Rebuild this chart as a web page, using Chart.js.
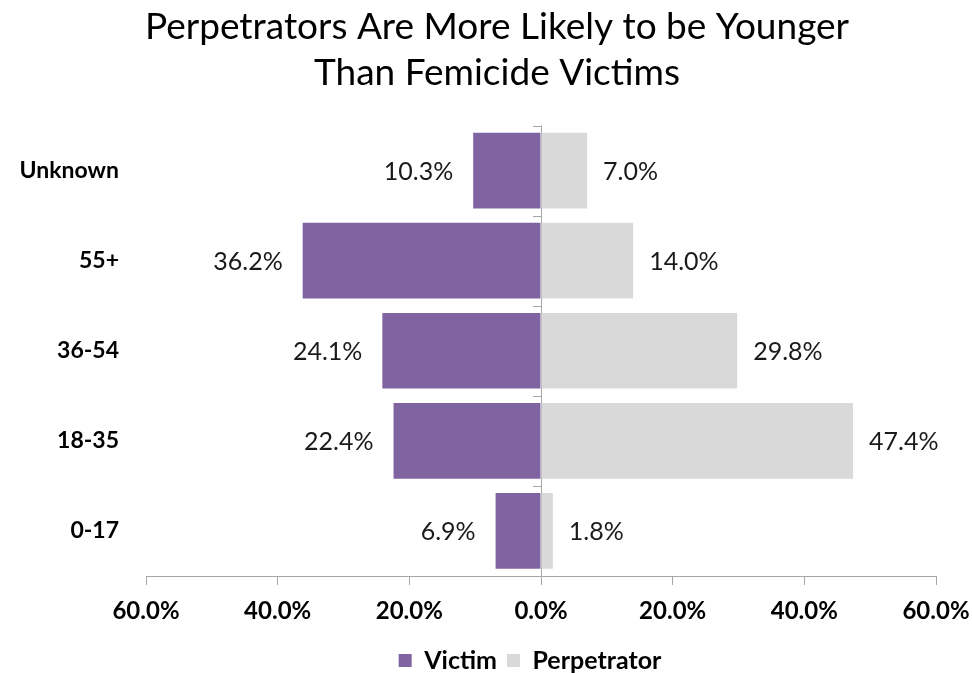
<!DOCTYPE html>
<html>
<head>
<meta charset="utf-8">
<script src="https://cdn.jsdelivr.net/npm/chart.js@4"></script>
<style>
  body { margin: 0; background: #fff; }
  canvas { display: block; }
</style>
</head>
<body>
<canvas id="ageChart" width="972" height="673"></canvas>
<script>
const ageGroups = ["Unknown", "55+", "36-54", "18-35", "0-17"];
const victimPct = [10.3, 36.2, 24.1, 22.4, 6.9];
const perpetratorPct = [7.0, 14.0, 29.8, 47.4, 1.8];
const axisTicks = [-60, -40, -20, 0, 20, 40, 60];

const axisGray = "#a6a6a6";
const fontFamily = "Lato, 'Open Sans', sans-serif";

Chart.defaults.color = "#000";
Chart.defaults.font.family = fontFamily;

// victims go to the left of zero, perpetrators to the right
const data = {
  labels: ageGroups,
  datasets: [
    {
      label: "Victim",
      data: victimPct.map((v) => -v),
      backgroundColor: "#8064a2",
      categoryPercentage: 0.84,
      barPercentage: 1,
    },
    {
      label: "Perpetrator",
      data: perpetratorPct,
      backgroundColor: "#d9d9d9",
      categoryPercentage: 0.84,
      barPercentage: 1,
    },
  ],
};

// percentage text beside the end of each bar
const barLabels = {
  id: "barLabels",
  afterDatasetsDraw(chart) {
    const ctx = chart.ctx;
    ctx.save();
    ctx.font = "25px " + fontFamily;
    ctx.fillStyle = "#1a1a1a";
    ctx.textBaseline = "middle";
    chart.data.datasets.forEach((ds, di) => {
      const meta = chart.getDatasetMeta(di);
      meta.data.forEach((bar, i) => {
        const v = Math.abs(ds.data[i]).toFixed(1) + "%";
        if (ds.data[i] < 0) {
          ctx.textAlign = "right";
          ctx.fillText(v, bar.x - 20, bar.y + 1);
        } else {
          ctx.textAlign = "left";
          ctx.fillText(v, bar.x + 16, bar.y + 1);
        }
      });
    });
    ctx.restore();
  },
};

// small category ticks on the zero line
const zeroTicks = {
  id: "zeroTicks",
  afterDraw(chart) {
    const x0 = chart.scales.x.getPixelForValue(0);
    const yScale = chart.scales.y;
    const ctx = chart.ctx;
    ctx.save();
    ctx.strokeStyle = axisGray;
    ctx.lineWidth = 1;
    for (let i = 0; i <= ageGroups.length; i++) {
      const y = Math.round(yScale.getPixelForValue(i - 0.5)) + 0.5;
      ctx.beginPath();
      ctx.moveTo(x0 - 8, y);
      ctx.lineTo(x0, y);
      ctx.stroke();
    }
    ctx.restore();
  },
};

// centre the title and legend over the plot instead of the whole page
const boxShift = {
  id: "boxShift",
  afterLayout(chart) {
    chart.titleBlock.left += 29;
    chart.titleBlock.right += 29;
    chart.legend.left += 62;
    chart.legend.right += 62;
    chart.legend.top += 10;
    chart.legend.bottom += 10;
  },
};

new Chart(document.getElementById("ageChart"), {
  type: "bar",
  data: data,
  plugins: [barLabels, zeroTicks, boxShift],
  options: {
    indexAxis: "y",
    responsive: false,
    animation: false,
    layout: { padding: { left: 0, right: 36, top: 0, bottom: 0 } },
    scales: {
      x: {
        stacked: true,
        min: -60,
        max: 60,
        afterBuildTicks(scale) {
          scale.ticks = axisTicks.map((v) => ({ value: v }));
        },
        afterFit(scale) {
          scale.height = 52;
          scale.paddingLeft = 0;
          scale.paddingRight = 0;
        },
        ticks: {
          padding: 12,
          font: { size: 24, weight: "bold" },
          color: "#000",
          callback: (v) => Math.abs(v).toFixed(1) + "%",
        },
        grid: {
          color: (c) => (c.tick && c.tick.value === 0 ? axisGray : "rgba(0,0,0,0)"),
          tickColor: axisGray,
          tickLength: 9,
          lineWidth: 1,
        },
        border: { display: true, color: axisGray },
      },
      y: {
        stacked: true,
        afterFit(scale) {
          scale.width = 146;
        },
        ticks: {
          padding: 27,
          font: { size: 23, weight: "bold" },
          color: "#000",
        },
        grid: { display: false, drawTicks: false },
        border: { display: false },
      },
    },
    plugins: {
      title: {
        display: true,
        text: ["Perpetrators Are More Likely to be Younger", "Than Femicide Victims"],
        font: { size: 37, weight: "normal", lineHeight: 1.25 },
        color: "#000",
        padding: { top: 4, bottom: 29 },
      },
      legend: {
        position: "bottom",
        labels: {
          boxWidth: 13,
          boxHeight: 13,
          padding: 10,
          font: { size: 25, weight: "bold" },
          color: "#000",
        },
      },
      tooltip: { enabled: false },
    },
  },
});
</script>
</body>
</html>
